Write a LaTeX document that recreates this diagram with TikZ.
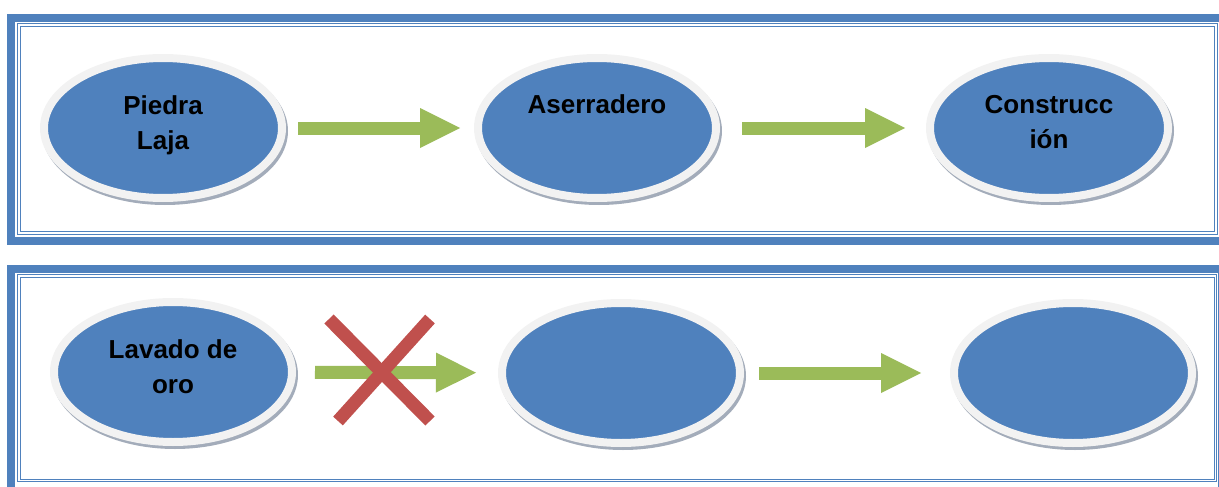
\documentclass[tikz,border=0pt]{standalone}
\usepackage{fontspec}
\setmainfont{Liberation Sans}
\usetikzlibrary{positioning}
\usetikzlibrary{shapes.geometric}
\usetikzlibrary{arrows.meta}

\definecolor{azul}{HTML}{4F81BD}
\definecolor{verde}{HTML}{9BBB59}
\definecolor{rojo}{HTML}{C0504D}
\definecolor{borde}{HTML}{F2F2F2}
\definecolor{sombra}{HTML}{A3ACBA}

\begin{document}
\begin{tikzpicture}[
    x=1pt,y=1pt,
    etapa/.style={ellipse,minimum width=238pt,minimum height=140pt,inner sep=0pt,
        fill=azul,draw=borde,line width=8pt,
        preaction={draw=sombra,fill=sombra,transform canvas={shift={(2pt,-3pt)}}}},
    texto/.style={align=center,inner sep=0pt,font=\fontsize{26}{35}\selectfont\bfseries},
    flecha/.style={draw=verde,line width=13pt,-{Triangle[length=40pt 0 0,width=40pt 0 0,line width=0pt]}},
    marco/.style={draw=azul,line width=8pt},
    linea/.style={draw=azul,line width=1.4pt,double=white,double distance=1.1pt},
    cruz/.style={draw=rojo,line width=13pt}
    ]
    \useasboundingbox (0,0) rectangle (1219,-487);
    % marcos
    \draw[marco] (11,-18) rectangle (1232,-241);
    \draw[linea] (19,-25) rectangle (1216,-233);
    \draw[marco] (11,-269) rectangle (1222,-491);
    \draw[linea] (19,-276) rectangle (1215.5,-480.5);
    % fila de arriba
    \node (piedra) [etapa] at (163,-128) {};
    \node (aserr) [etapa] at (597,-128) {};
    \node (constr) [etapa] at (1049,-128) {};
    \node (piedraT) [texto,below=41pt of piedra.north] {Piedra\\Laja};
    \node (aserrT) [texto,below=40pt of aserr.north] {Aserradero};
    \node (constrT) [texto,below=41pt of constr.north] {Construcc\\ión};
    \draw[flecha,shorten <=12pt,shorten >=14pt] (piedra) -- (aserr);
    \draw[flecha,shorten <=22pt,shorten >=21pt] (aserr) -- (constr);
    % fila de abajo
    \node (lavado) [etapa] at (173,-372) {};
    \node (vacio1) [etapa] at (621,-373) {};
    \node (vacio2) [etapa] at (1073,-373) {};
    \node (lavadoT) [texto,below=41pt of lavado.north] {Lavado de\\oro};
    \draw[flecha,shorten <=19pt,shorten >=22pt] (lavado) -- (vacio1);
    \draw[flecha,shorten <=15pt,shorten >=29pt] (vacio1) -- (vacio2);
    \draw[cruz] (329,-319) -- (430,-421);
    \draw[cruz] (430,-319) -- (338,-421);
\end{tikzpicture}
\end{document}
